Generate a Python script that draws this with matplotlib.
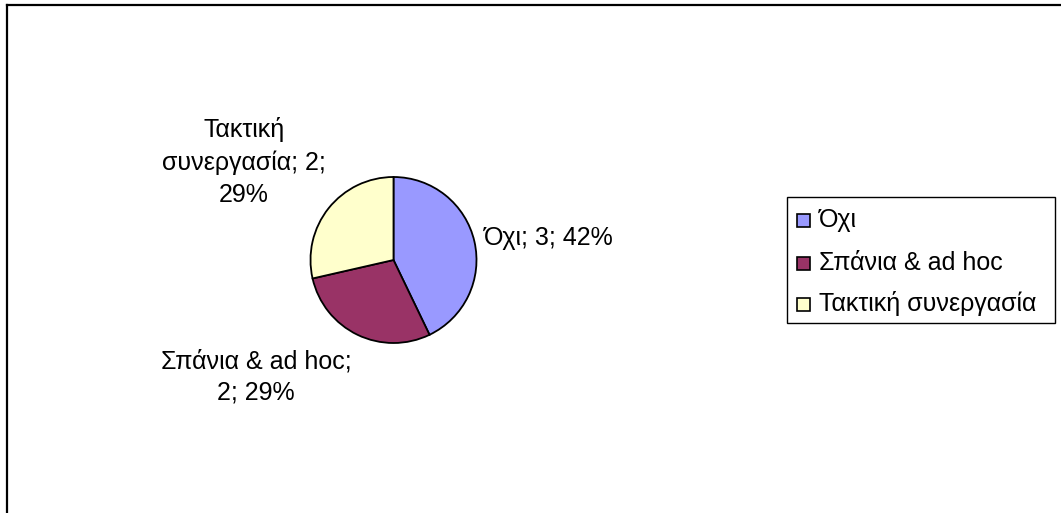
import matplotlib
matplotlib.use("Agg")
import matplotlib.pyplot as plt
from matplotlib.patches import Rectangle
from matplotlib.lines import Line2D

categories = ["Όχι", "Σπάνια & ad hoc", "Τακτική συνεργασία"]
counts = [3, 2, 2]
percent_labels = [42, 29, 29]
colors = ["#9999FF", "#993366", "#FFFFCC"]

W, H = 1061, 513
plt.rcParams["font.family"] = ["Liberation Sans", "DejaVu Sans"]
FS = 18

fig = plt.figure(figsize=(W / 100, H / 100), dpi=100)
fig.patch.set_facecolor("white")

def fx(px):
    return px / W

def fy(py):
    return 1 - py / H

# chart area border (left and top edges)
fig.add_artist(Line2D([fx(7), fx(7)], [fy(5), 0], color="black", lw=1.6,
                      transform=fig.transFigure))
fig.add_artist(Line2D([fx(7), 1], [fy(5), fy(5)], color="black", lw=1.6,
                      transform=fig.transFigure))

# pie
cx, cy, r = 393.5, 260, 83
ax = fig.add_axes([fx(cx - r), fy(cy + r), 2 * r / W, 2 * r / H])
ax.pie(counts, colors=colors, startangle=90, counterclock=False,
       wedgeprops=dict(edgecolor="black", linewidth=1.3))
ax.set_xlim(-1.0, 1.0)
ax.set_ylim(-1.0, 1.0)
ax.set_aspect("auto")
ax.axis("off")

# data labels
label_texts = [
    f"{categories[0]}; {counts[0]}; {percent_labels[0]}%",
    f"{categories[1]};\n{counts[1]}; {percent_labels[1]}%",
    "Τακτική\nσυνεργασία; {};\n{}%".format(counts[2], percent_labels[2]),
]
label_pos = [(548.5, 238), (256, 377), (244, 162)]
for txt, (px, py) in zip(label_texts, label_pos):
    fig.text(fx(px), fy(py), txt, ha="center", va="center", fontsize=FS,
             linespacing=1.42, color="black")

# legend
box_x0, box_y0, box_x1, box_y1 = 787, 197, 1055, 323
fig.add_artist(Rectangle((fx(box_x0), fy(box_y1)), fx(box_x1) - fx(box_x0),
                         fy(box_y0) - fy(box_y1), transform=fig.transFigure,
                         facecolor="white", edgecolor="black", lw=1.0))
rows = [220, 263, 304]
sq = 13
for name, col, ry in zip(categories, colors, rows):
    fig.add_artist(Rectangle((fx(797), fy(ry + sq / 2)), sq / W, sq / H,
                             transform=fig.transFigure, facecolor=col,
                             edgecolor="black", lw=1.2))
    fig.text(fx(819), fy(ry), name, ha="left", va="center", fontsize=FS,
             color="black")

fig.savefig("out.png", dpi=100, facecolor="white")
